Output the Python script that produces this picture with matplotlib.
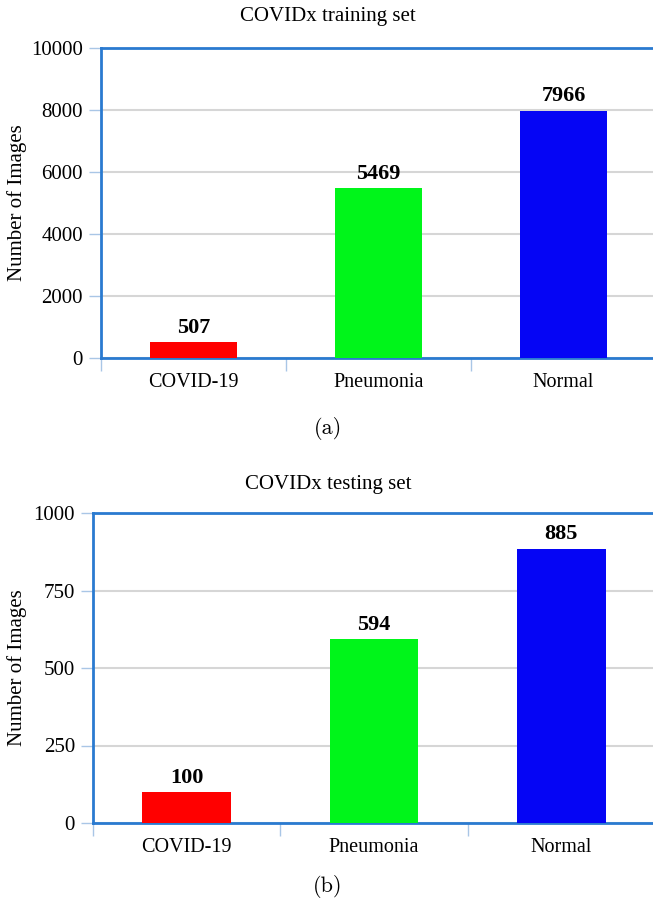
import matplotlib
matplotlib.use("Agg")
import matplotlib.pyplot as plt

categories = ["COVID-19", "Pneumonia", "Normal"]
train_counts = [507, 5469, 7966]
test_counts = [100, 594, 885]
bar_colors = ["#ff0000", "#00f51a", "#0505f5"]

train_ticks = [0, 2000, 4000, 6000, 8000, 10000]
test_ticks = [0, 250, 500, 750, 1000]

W, H = 653, 911
spine_blue = "#2a7ad0"
tick_blue = "#a9c6e6"

plt.rcParams["font.family"] = ["Liberation Serif", "DejaVu Serif"]
plt.rcParams["font.size"] = 15


def px_axes(fig, left, top, right, bottom):
    return fig.add_axes([left / W, 1 - bottom / H, (right - left) / W, (bottom - top) / H])


def draw_panel(ax, counts, yticks, title_y, title, label_x):
    x = range(len(categories))
    ax.bar(x, counts, width=0.475, color=bar_colors, zorder=3)
    for xi, v in zip(x, counts):
        ax.annotate(str(v), (xi, v), xytext=(0, 3), textcoords="offset points",
                    ha="center", va="bottom", fontsize=16, fontweight="bold")
    ax.set_xlim(-0.5, 2.5)
    ax.set_ylim(yticks[0], yticks[-1])
    ax.set_yticks(yticks)
    ax.set_xticks([-0.5, 0.5, 1.5])
    ax.set_xticklabels([])
    ax.set_xticks(list(x), minor=True)
    ax.set_xticklabels(categories, minor=True, fontsize=14.5)
    ax.tick_params(axis="x", which="minor", length=0, pad=11)
    ax.tick_params(axis="x", which="major", length=9, color=tick_blue, width=1)
    ax.tick_params(axis="y", length=9, color=tick_blue, width=1, pad=4,
                   labelsize=15)
    ax.grid(axis="y", color="#d6d6d6", linewidth=1.5, zorder=0)
    for side in ["left", "top", "bottom"]:
        ax.spines[side].set_color(spine_blue)
        ax.spines[side].set_linewidth(2)
    ax.spines["right"].set_visible(False)
    ax.set_ylabel("Number of Images", fontsize=15)
    ax.yaxis.set_label_coords(label_x, 0.5)
    fig.text(328 / W, 1 - title_y / H, title, ha="center", va="center",
             fontsize=15)


fig = plt.figure(figsize=(W / 100, H / 100), dpi=100)

ax1 = px_axes(fig, 101, 47.5, 656, 358)
draw_panel(ax1, train_counts, train_ticks, 17, "COVIDx training set", -0.134)
fig.text(328 / W, 1 - 428 / H, "(a)", ha="center", va="center", fontsize=16,
         family="cmr10")

ax2 = px_axes(fig, 93, 513, 655, 823)
draw_panel(ax2, test_counts, test_ticks, 484, "COVIDx testing set", -0.118)
fig.text(328 / W, 1 - 886 / H, "(b)", ha="center", va="center", fontsize=16,
         family="cmr10")

fig.savefig("out.png", dpi=100)
